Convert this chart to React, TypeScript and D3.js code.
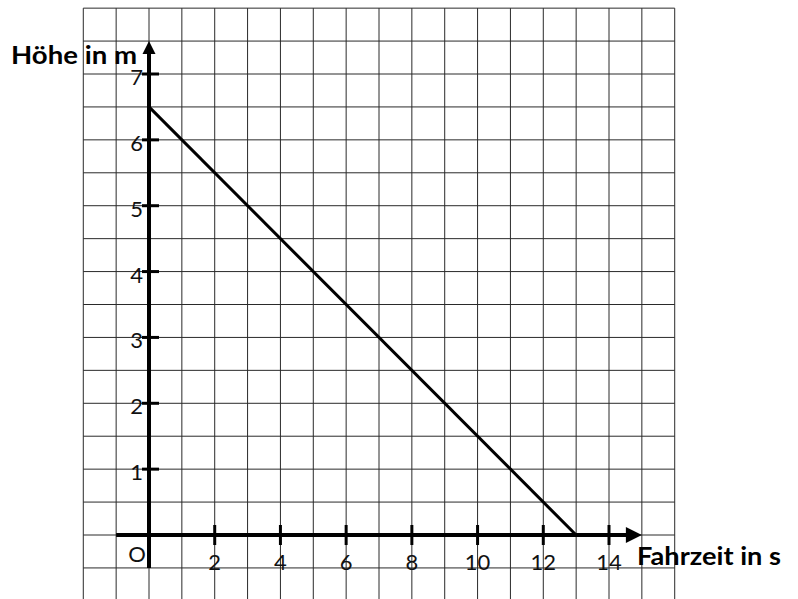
import React, { useEffect, useRef } from 'react';
import * as d3 from 'd3';

// values
const timeValues = [0, 13];
const heightValues = [6.5, 0];
const xTickValues = [2, 4, 6, 8, 10, 12, 14];
const yTickValues = [1, 2, 3, 4, 5, 6, 7];
const xTitle = 'Fahrzeit in s';
const yTitle = 'Höhe in m';
const originLabel = 'O';

const W = 798;
const H = 599;

export default function App() {
  const ref = useRef<SVGSVGElement>(null);

  useEffect(() => {
    const svg = d3.select(ref.current);
    svg.selectAll('*').remove();

    const x = d3.scaleLinear().domain([0, 14]).range([149, 609]);
    const y = d3.scaleLinear().domain([0, 7]).range([535, 74]);
    const font = 'Lato, "Open Sans", sans-serif';

    // grid: 1 s across, 0.5 m up
    const grid = svg.append('g').attr('stroke', '#2a2a2a').attr('stroke-width', 1);
    d3.range(-2, 16.001, 1).forEach((v) => {
      grid.append('line')
        .attr('x1', x(v)).attr('x2', x(v))
        .attr('y1', y(8)).attr('y2', H);
    });
    d3.range(-1, 8.001, 0.5).forEach((v) => {
      grid.append('line')
        .attr('x1', x(-2)).attr('x2', x(16))
        .attr('y1', y(v)).attr('y2', y(v));
    });

    // axes
    const axes = svg.append('g').attr('stroke', '#000');
    axes.append('line')
      .attr('x1', x(-1)).attr('x2', x(15) - 12)
      .attr('y1', y(0)).attr('y2', y(0))
      .attr('stroke-width', 4);
    axes.append('line')
      .attr('x1', x(0)).attr('x2', x(0))
      .attr('y1', y(-0.5)).attr('y2', y(7.5) + 10)
      .attr('stroke-width', 4);

    svg.append('path')
      .attr('d', `M${x(15)},${y(0)} L${x(15) - 16},${y(0) - 8} L${x(15) - 16},${y(0) + 8} Z`)
      .attr('fill', '#000');
    svg.append('path')
      .attr('d', `M${x(0)},${y(7.5)} L${x(0) - 6.5},${y(7.5) + 13} L${x(0) + 6.5},${y(7.5) + 13} Z`)
      .attr('fill', '#000');

    // ticks
    xTickValues.forEach((v) => {
      axes.append('line')
        .attr('x1', x(v)).attr('x2', x(v))
        .attr('y1', y(0) - 10).attr('y2', y(0) + 10)
        .attr('stroke-width', 3);
    });
    yTickValues.forEach((v) => {
      axes.append('line')
        .attr('x1', x(0) - 7).attr('x2', x(0) + 10)
        .attr('y1', y(v)).attr('y2', y(v))
        .attr('stroke-width', 3);
    });

    // tick labels
    svg.append('g').selectAll('text')
      .data(xTickValues)
      .enter()
      .append('text')
      .attr('x', (d) => x(d))
      .attr('y', 570)
      .attr('text-anchor', 'middle')
      .style('font-family', font)
      .style('font-size', '22px')
      .style('fill', '#111')
      .text((d) => d);

    svg.append('g').selectAll('text')
      .data(yTickValues)
      .enter()
      .append('text')
      .attr('x', 143)
      .attr('y', (d) => y(d) + 11)
      .attr('text-anchor', 'end')
      .style('font-family', font)
      .style('font-size', '22px')
      .style('fill', '#111')
      .text((d) => d);

    svg.append('text')
      .attr('x', 137).attr('y', 562)
      .attr('text-anchor', 'middle')
      .style('font-family', font)
      .style('font-size', '22px')
      .style('fill', '#111')
      .text(originLabel);

    // axis titles
    svg.append('text')
      .attr('x', 11).attr('y', 64)
      .style('font-family', font)
      .style('font-weight', 'bold')
      .style('font-size', '25px')
      .attr('textLength', 126)
      .attr('lengthAdjust', 'spacingAndGlyphs')
      .text(yTitle);
    svg.append('text')
      .attr('x', 637).attr('y', 565)
      .style('font-family', font)
      .style('font-weight', 'bold')
      .style('font-size', '25px')
      .attr('textLength', 144)
      .attr('lengthAdjust', 'spacingAndGlyphs')
      .text(xTitle);

    // the line
    const line = d3.line<number>()
      .x((d, i) => x(timeValues[i]))
      .y((d) => y(d));
    svg.append('path')
      .datum(heightValues)
      .attr('d', line)
      .attr('fill', 'none')
      .attr('stroke', '#000')
      .attr('stroke-width', 3);
  }, []);

  return (
    <svg
      ref={ref}
      width={W}
      height={H}
      style={{ position: 'absolute', left: 0, top: 0, background: '#fff' }}
    />
  );
}
